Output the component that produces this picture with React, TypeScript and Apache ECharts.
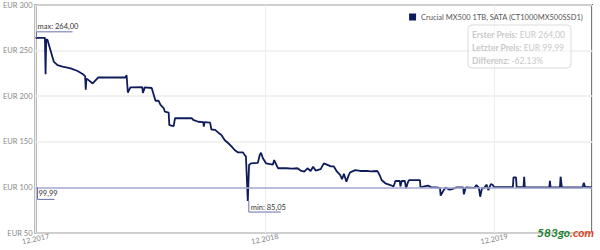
import { useEffect, useRef } from 'react';
import * as echarts from 'echarts';

const seriesName = 'Crucial MX500 1TB, SATA (CT1000MX500SSD1)';
const tickLabels = ['12.2017', '12.2018', '12.2019'];
const daysPerTick = 365;
const xMaxDay = 886;
const yTicks = [50, 100, 150, 200, 250, 300];

// days since 01.12.2017
const days = [
  0, 15, 16, 17, 19, 29, 35, 43, 56, 67, 75, 79, 80, 81, 83, 91, 100, 143, 145, 147,
  151, 170, 171, 174, 185, 191, 196, 199, 204, 206, 212, 213, 220, 222, 249, 251, 259, 267, 268, 269,
  278, 280, 286, 291, 296, 301, 307, 312, 317, 322, 330, 333, 335, 338, 340, 343, 354, 357, 359, 362,
  367, 378, 380, 382, 386, 399, 409, 417, 422, 428, 433, 438, 442, 446, 454, 459, 464, 470, 475, 480,
  485, 488, 491, 495, 499, 501, 509, 517, 528, 533, 544, 546, 549, 551, 557, 565, 570, 573, 580, 581,
  583, 588, 590, 593, 595, 612, 613, 619, 625, 630, 638, 644, 645, 649, 653, 659, 665, 670, 681, 682,
  685, 699, 702, 706, 708, 711, 714, 718, 721, 725, 728, 730, 749, 760, 761, 765, 766, 777, 778, 779,
  818, 819, 820, 835, 836, 838, 871, 873, 875, 886,
];
const prices = [
  264, 264, 224, 262, 262, 238, 234, 232.4, 230.6, 227.6, 224.3, 222, 207, 219, 218.5, 214, 220.7, 220.5, 223, 204,
  209.7, 210, 203.5, 209.7, 209, 195, 195, 190.5, 187, 183, 182, 168.4, 167.3, 175.8, 175.8, 174, 172, 171.5, 166.6, 171.5,
  171, 163.5, 163, 160, 157.5, 152, 148.4, 145, 141, 138.5, 138.5, 135.5, 134, 85.05, 124.6, 126.4, 127, 135.5, 138, 132,
  126.4, 125, 130, 127, 121, 121, 120.5, 121, 118.5, 117.2, 121, 118, 122.7, 118.5, 120, 126.4, 125, 123, 123, 117.2,
  113.6, 109, 115, 106.3, 114, 116.5, 119, 118, 118, 117.5, 118, 116, 111.7, 108.1, 104.5, 102.6, 101, 107, 107, 101,
  107, 107, 98.9, 106, 108, 108, 100, 101, 102, 100, 100, 99.5, 91, 96, 100, 97.5, 98.5, 100, 100, 92.4,
  100, 99.5, 102.6, 99.5, 89.8, 99.5, 99, 103, 97, 103.7, 102.6, 100.3, 100.3, 100.3, 111, 111, 100.3, 100.3, 111.7, 100,
  100, 107.3, 100, 100, 111.7, 100, 100, 105.2, 100.5, 99.99,
];

const firstPrice = prices[0];
const lastPrice = prices[prices.length - 1];
const fmt = (v: number) => v.toFixed(2).replace('.', ',');

const FONT = 'Lato, "Open Sans", sans-serif';

export default function App() {
  const ref = useRef<HTMLDivElement>(null);
  useEffect(() => {
    document.body.style.margin = '0';
    if (!ref.current) return;
    const chart = echarts.init(ref.current, undefined, { renderer: 'svg' });
    const data = days.map((d, i) => [d, prices[i]]);
    let maxIdx = 0;
    let minIdx = 0;
    prices.forEach((p, i) => {
      if (p > prices[maxIdx]) maxIdx = i;
      if (p < prices[minIdx]) minIdx = i;
    });
    const diff = ((lastPrice - firstPrice) / firstPrice) * 100;

    chart.setOption({
      animation: false,
      textStyle: { fontFamily: FONT },
      grid: {
        left: 31, top: 5, right: 8, bottom: 17,
        show: true, borderColor: '#7a7a7a', borderWidth: 2, backgroundColor: 'transparent',
      },
      legend: {
        data: [seriesName],
        right: 12, top: 8,
        icon: 'rect', itemWidth: 7, itemHeight: 7, itemGap: 5,
        textStyle: { fontSize: 7.5, color: '#555', fontFamily: FONT },
      },
      xAxis: {
        type: 'value',
        min: 0, max: xMaxDay, interval: daysPerTick,
        axisLine: { show: false },
        axisTick: { show: false },
        splitLine: { show: true, lineStyle: { color: '#ececec', width: 1 } },
        axisLabel: {
          showMaxLabel: false,
          rotate: 12,
          align: 'center',
          margin: 6,
          fontSize: 7.5,
          color: '#888',
          formatter: (v: number) => {
            const i = Math.round(v / daysPerTick);
            return Math.abs(v - i * daysPerTick) < 0.5 ? tickLabels[i] ?? '' : '';
          },
        },
      },
      yAxis: {
        type: 'value',
        min: yTicks[0], max: yTicks[yTicks.length - 1], interval: 50,
        axisLine: { show: false },
        axisTick: { show: false },
        splitLine: { show: true, lineStyle: { color: '#ececec', width: 1.5 } },
        axisLabel: { fontSize: 7.5, color: '#888', margin: 3, formatter: 'EUR {value}' },
      },
      series: [
        {
          name: seriesName,
          type: 'line',
          data,
          showSymbol: false,
          symbol: 'none',
          color: '#0f1c5c',
          lineStyle: { color: '#0f1c5c', width: 1.8 },
          markLine: {
            silent: true,
            symbol: 'none',
            label: { show: false },
            lineStyle: { color: '#a7abd4', width: 1.5, type: 'solid' },
            data: [{ yAxis: lastPrice }],
          },
          z: 3,
        },
      ],
    });

    const pMax = chart.convertToPixel({ gridIndex: 0 }, [days[maxIdx], prices[maxIdx]]) as number[];
    const pMin = chart.convertToPixel({ gridIndex: 0 }, [days[minIdx], prices[minIdx]]) as number[];
    const pLast = chart.convertToPixel({ gridIndex: 0 }, [days[0], lastPrice]) as number[];
    const lblColor = '#6a70ae';
    const txt = { fontSize: 7.5, fill: '#333', fontFamily: FONT };

    chart.setOption({
      graphic: [
        // max label
        {
          type: 'polyline', z: 10,
          shape: { points: [[pMax[0] + 1, pMax[1]], [pMax[0] + 1, pMax[1] - 6], [pMax[0] + 37, pMax[1] - 6]] },
          style: { stroke: lblColor, lineWidth: 1, fill: 'none' },
        },
        {
          type: 'text', z: 10, x: pMax[0] + 2, y: pMax[1] - 11,
          style: { ...txt, text: 'max: ' + fmt(prices[maxIdx]), verticalAlign: 'middle' },
        },
        // min label
        {
          type: 'polyline', z: 10,
          shape: { points: [[pMin[0] + 1, pMin[1]], [pMin[0] + 1, pMin[1] + 11], [pMin[0] + 33, pMin[1] + 11]] },
          style: { stroke: lblColor, lineWidth: 1, fill: 'none' },
        },
        {
          type: 'text', z: 10, x: pMin[0] + 3, y: pMin[1] + 6,
          style: { ...txt, text: 'min: ' + fmt(prices[minIdx]), verticalAlign: 'middle' },
        },
        // last price label
        {
          type: 'polyline', z: 10,
          shape: { points: [[pLast[0] + 2, pLast[1]], [pLast[0] + 2, pLast[1] + 12], [pLast[0] + 19, pLast[1] + 12]] },
          style: { stroke: lblColor, lineWidth: 1, fill: 'none' },
        },
        {
          type: 'text', z: 10, x: pLast[0] + 3, y: pLast[1] + 6.5,
          style: { ...txt, text: fmt(lastPrice), verticalAlign: 'middle' },
        },
        // info box
        {
          type: 'rect', z: 10, x: 468, y: 25,
          shape: { width: 103, height: 43, r: 4 },
          style: { fill: 'rgba(255,255,255,0.6)', stroke: '#dcdcdc', lineWidth: 1 },
        },
        {
          type: 'text', z: 11, x: 472, y: 28,
          style: {
            text: '{b|Erster Preis:} EUR ' + fmt(firstPrice) +
              '\n{b|Letzter Preis:} EUR ' + fmt(lastPrice) +
              '\n{b|Differenz:} ' + diff.toFixed(2) + '%',
            fontSize: 8.5, lineHeight: 13, fill: '#c9c9c9', fontFamily: FONT,
            rich: { b: { fontWeight: 'bold', fontSize: 8.5, fill: '#c9c9c9', fontFamily: FONT } },
          },
        },
        // watermark
        {
          type: 'text', z: 12, x: 537, y: 226,
          style: {
            text: '{g|583go}{r|.com}',
            fontFamily: FONT,
            rich: {
              g: { fill: '#1b7f2a', fontSize: 12, fontWeight: 'bold', fontStyle: 'italic', fontFamily: FONT },
              r: { fill: '#e2451c', fontSize: 12, fontWeight: 'bold', fontStyle: 'italic', fontFamily: FONT },
            },
          },
        },
      ],
    });

    return () => chart.dispose();
  }, []);
  return <div ref={ref} style={{ width: 600, height: 250 }} />;
}
